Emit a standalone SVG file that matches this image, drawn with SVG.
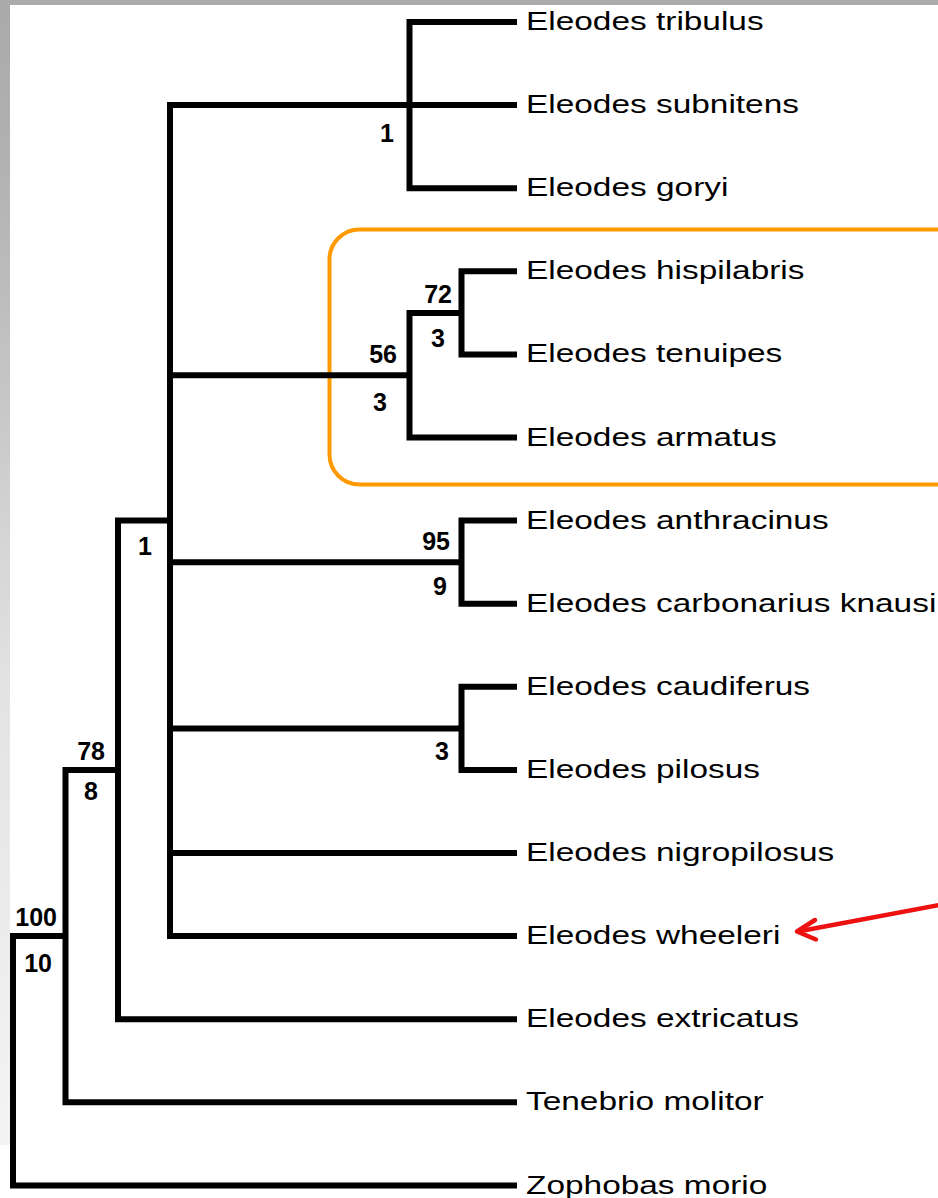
<svg xmlns="http://www.w3.org/2000/svg" width="938" height="1198" viewBox="0 0 938 1198">
<defs>
<linearGradient id="edge" gradientUnits="userSpaceOnUse" x1="0" y1="0" x2="0" y2="1145">
<stop offset="0" stop-color="#aaaaaa"/>
<stop offset="0.12" stop-color="#b0b0b0"/>
<stop offset="0.26" stop-color="#bdbdbd"/>
<stop offset="0.6" stop-color="#e3e3e3"/>
<stop offset="1" stop-color="#f4f4f4"/>
</linearGradient>
<style>
.br{fill:none;stroke:#000;stroke-width:6;stroke-linecap:butt;stroke-linejoin:miter}
.tip{font-family:"Liberation Sans",Arial,sans-serif;font-size:25px;fill:#000}
.sup{font-family:"Liberation Sans",Arial,sans-serif;font-size:25px;font-weight:bold;fill:#000;text-anchor:end}
</style>
</defs>
<rect x="0" y="0" width="938" height="1198" fill="#fff"/>
<rect x="0" y="0" width="10" height="1145" fill="url(#edge)"/>
<rect x="0" y="0" width="938" height="5" fill="#ababab"/>

<g id="highlight">
<rect x="329.5" y="229.5" width="700" height="255" rx="30" ry="30" fill="none" stroke="#ff9900" stroke-width="4"/>
</g>

<g id="connectors">
<path class="br" d="M170 105.1 H517"/>
<path class="br" d="M517 22 H409.5 V188.2 H517"/>
<path class="br" d="M517 105.1 H170 V936.1 H517"/>
<path class="br" d="M170 375.2 H409.5"/>
<path class="br" d="M517 437.5 H409.5 V312.9 H461.5"/>
<path class="br" d="M517 271.3 H461.5 V354.4 H517"/>
<path class="br" d="M170 562.2 H461.5"/>
<path class="br" d="M517 520.6 H461.5 V603.7 H517"/>
<path class="br" d="M170 728.4 H461.5"/>
<path class="br" d="M517 686.8 H461.5 V769.9 H517"/>
<path class="br" d="M170 853 H517"/>
<path class="br" d="M170 520.6 H118 V1019.2 H517"/>
<path class="br" d="M118 769.9 H65.5 V1102.3 H517"/>
<path class="br" d="M65.5 936.1 H13 V1185.4 H517"/>
</g>

<g id="support-labels">
<text class="sup" x="394" y="142">1</text>
<text class="sup" x="452" y="303">72</text>
<text class="sup" x="445" y="347">3</text>
<text class="sup" x="397" y="363">56</text>
<text class="sup" x="387" y="411">3</text>
<text class="sup" x="450" y="550">95</text>
<text class="sup" x="447" y="595">9</text>
<text class="sup" x="449" y="760">3</text>
<text class="sup" x="152" y="555">1</text>
<text class="sup" x="105" y="760">78</text>
<text class="sup" x="98" y="800">8</text>
<text class="sup" x="57" y="926">100</text>
<text class="sup" x="52" y="972">10</text>
</g>

<g id="taxa" transform="translate(526 0) scale(1.336 1)">
<text id="t-tribulus" class="tip" x="0" y="30.5">Eleodes tribulus</text>
<text id="t-subnitens" class="tip" x="0" y="113.5">Eleodes subnitens</text>
<text id="t-goryi" class="tip" x="0" y="196.5">Eleodes goryi</text>
<text id="t-hispilabris" class="tip" x="0" y="279.5">Eleodes hispilabris</text>
<text id="t-tenuipes" class="tip" x="0" y="362.5">Eleodes tenuipes</text>
<text id="t-armatus" class="tip" x="0" y="446">Eleodes armatus</text>
<text id="t-anthracinus" class="tip" x="0" y="529">Eleodes anthracinus</text>
<text id="t-carbonarius" class="tip" x="0" y="612">Eleodes carbonarius knausi</text>
<text id="t-caudiferus" class="tip" x="0" y="695.5">Eleodes caudiferus</text>
<text id="t-pilosus" class="tip" x="0" y="778.5">Eleodes pilosus</text>
<text id="t-nigropilosus" class="tip" x="0" y="861.5">Eleodes nigropilosus</text>
<text id="t-wheeleri" class="tip" x="0" y="944.5">Eleodes wheeleri</text>
<text id="t-extricatus" class="tip" x="0" y="1027.5">Eleodes extricatus</text>
<text id="t-tenebrio" class="tip" x="0" y="1110.5">Tenebrio molitor</text>
<text id="t-zophobas" class="tip" x="0" y="1194">Zophobas morio</text>
</g>

<g id="pointer" fill="none" stroke="#ee1111" stroke-width="4.5" stroke-linecap="round" stroke-linejoin="round">
<path d="M945 904 L798 931.5"/>
<path d="M815 920 L797 931.5 L816 939.5"/>
</g>
</svg>
